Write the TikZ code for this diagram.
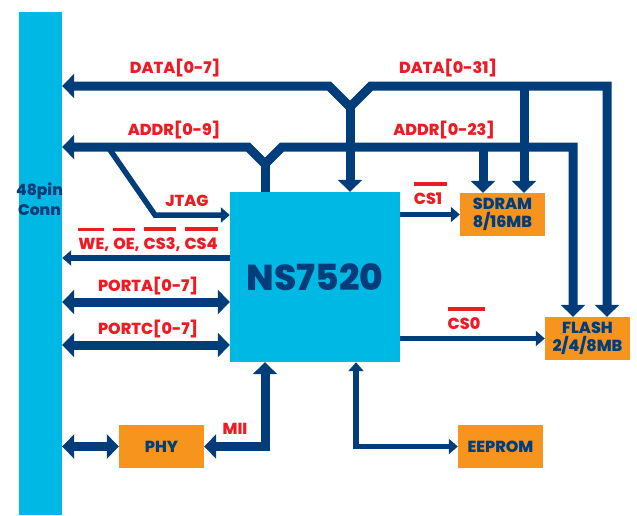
\documentclass[tikz,border=0pt]{standalone}
\usepackage{fontspec}
\setmainfont{Poppins}[BoldFont={Poppins ExtraBold}]
\usetikzlibrary{arrows.meta, positioning}
\definecolor{ns_cyan}{RGB}{0, 184, 228}
\definecolor{ns_navy}{RGB}{0, 61, 122}
\definecolor{ns_red}{RGB}{237, 28, 36}
\definecolor{ns_orange}{RGB}{247, 148, 30}
\newcommand{\sigbar}[2][0pt]{\vbox{\hrule height 3.5pt\kern 6.5pt\hbox{#2\kern #1}}\kern-#1}

\begin{document}
\begin{tikzpicture}[x=1pt, y=-1pt,
            font=\fontsize{16}{18.5}\selectfont\bfseries,
            blk/.style={fill=ns_orange, text=ns_navy, align=center, inner sep=0pt,
                        minimum width=85pt, minimum height=43pt},
            lbl/.style={text=ns_red, anchor=base, inner sep=0pt},
            bus/.style={line width=9pt, draw=ns_navy},
            sig/.style={line width=5.5pt, draw=ns_navy},
            bustip/.tip={Triangle[width=24pt, length=12pt]},
            sigtip/.tip={Triangle[width=15pt, length=9pt]}]
            \useasboundingbox (0,0) rectangle (637,515);
            \node[fill=ns_cyan, inner sep=0pt, minimum width=43pt, minimum height=503pt] (conn)
              at (40.5,263.5) {};
            \node[text=ns_navy, align=center, inner sep=0pt,
                  font=\fontsize{15.5}{20}\selectfont\bfseries] (connlbl)
              at (39.5,199) {48pin\\Conn};
            \node[fill=ns_cyan, text=ns_navy, inner sep=0pt, minimum width=170pt,
                  minimum height=170pt, font=\fontsize{36}{40}\selectfont\bfseries] (ns)
              at (315,277) {NS7520};
            \node[blk] (sdram) at (502.5,214.5) {SDRAM\\8/16MB};
            \node[blk] (flash) at (587.5,338.5) {FLASH\\2/4/8MB};
            \node[blk] (phy) at (161.5,446.5) {PHY};
            \node[blk] (eeprom) at (500.5,446.5) {EEPROM};
            \draw[bus, bustip-bustip] (conn.east |- 0,86) -- (329,86) -- (350,107)
              -- (371,86) -| ([xshift=19.5pt]flash.north);
            \draw[bus, -bustip] (350,107) -- (ns.north -| 350,0);
            \draw[bus, -bustip] (524,86) -- ([xshift=21.5pt]sdram.north);
            \draw[bus, bustip-bustip] (conn.east |- 0,147) -- (248,147) -- (265,164)
              -- (282,147) -| ([xshift=-14.5pt]flash.north);
            \draw[bus] (265,164) -- (ns.north -| 265,0);
            \draw[bus, -bustip] (483,147) -- ([xshift=-19.5pt]sdram.north);
            \draw[sig, -sigtip] (108,147) -- (155,215) -- (ns.west |- 0,215);
            \draw[sig, -sigtip] (ns.west |- 0,258) -- (conn.east |- 0,258);
            \draw[bus, bustip-bustip] (conn.east |- 0,302) -- (ns.west |- 0,302);
            \draw[bus, bustip-bustip] (conn.east |- 0,345) -- (ns.west |- 0,345);
            \draw[bus, bustip-bustip] (conn.east |- phy.west) -- (phy.west);
            \draw[bus, bustip-bustip] (phy.east) -| ([xshift=-50pt]ns.south);
            \draw[sig, sigtip-sigtip] ([xshift=41pt]ns.south) |- (eeprom.west);
            \draw[sig, -sigtip] (ns.east |- sdram.west) -- (sdram.west);
            \draw[sig, -sigtip] (ns.east |- flash.west) -- (flash.west);
            \node[lbl] (data8) at (175,73) {DATA[0-7]};
            \node[lbl] (data32) at (448,73) {DATA[0-31]};
            \node[lbl] (addr10) at (174,135) {ADDR[0-9]};
            \node[lbl] (addr24) at (444,135) {ADDR[0-23]};
            \node[lbl] (jtag) at (187,206) {JTAG};
            \node[lbl] (ctl) at (148,249)
              {\sigbar{WE},\kern4pt\sigbar{OE},\kern4pt\sigbar{CS3},\kern4pt\sigbar{CS4}};
            \node[lbl] (porta) at (148,291) {PORTA[0-7]};
            \node[lbl] (portc) at (148,334) {PORTC[0-7]};
            \node[lbl] (mii) at (235,434) {MII};
            \node[lbl] (cs1) at (428,204) {\sigbar[5pt]{CS1}};
            \node[lbl] (cs0) at (464,329) {\sigbar[5pt]{CS0}};
          \end{tikzpicture}
\end{document}
